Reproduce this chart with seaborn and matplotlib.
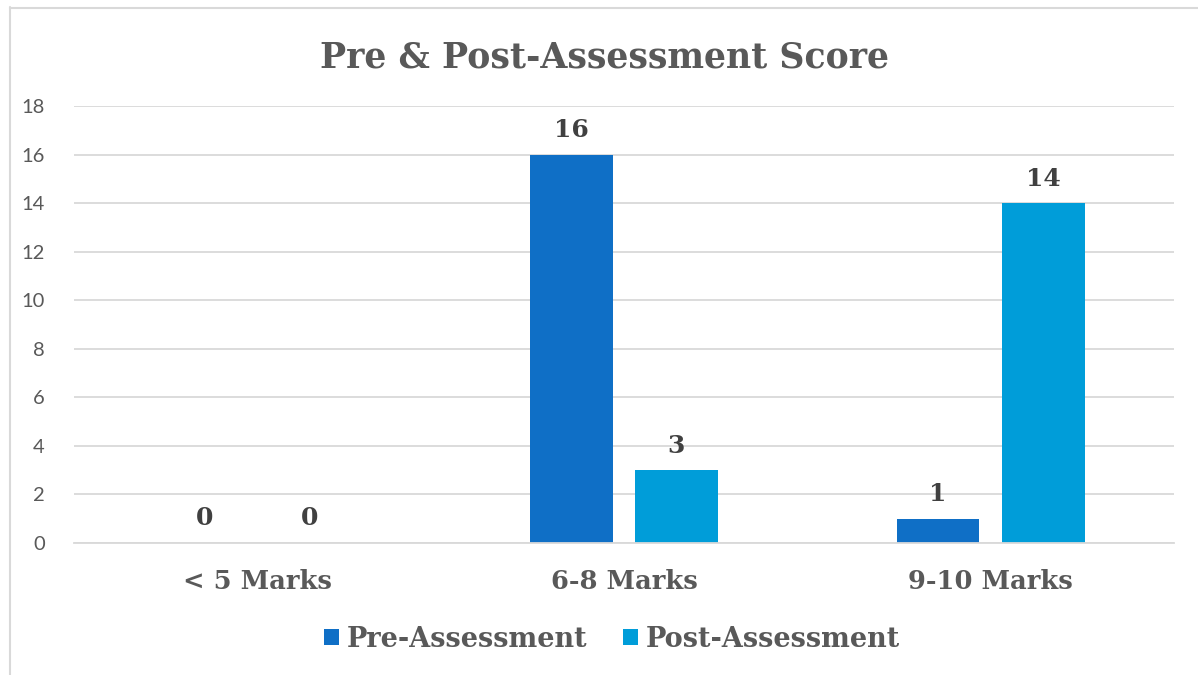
import matplotlib
matplotlib.use("Agg")
import matplotlib.pyplot as plt
from matplotlib.lines import Line2D
import seaborn as sns
import pandas as pd

categories = ["< 5 Marks", "6-8 Marks", "9-10 Marks"]
pre_values = [0, 16, 1]
post_values = [0, 3, 14]
series_names = ["Pre-Assessment", "Post-Assessment"]
y_ticks = [0, 2, 4, 6, 8, 10, 12, 14, 16, 18]

colors = ["#0F6FC6", "#009DD9"]

df = pd.DataFrame({
    "Category": categories * 2,
    "Value": pre_values + post_values,
    "Series": [series_names[0]] * 3 + [series_names[1]] * 3,
})

sns.set_theme(style="white")
plt.rcParams["font.family"] = ["DejaVu Serif"]

fig = plt.figure(figsize=(11.98, 6.75), dpi=100)
ax = fig.add_axes([0.0618, 0.1956, 0.918, 0.6474])

sns.barplot(data=df, x="Category", y="Value", hue="Series", order=categories,
            hue_order=series_names, palette=colors, width=0.573, gap=0.21,
            saturation=1, ax=ax, legend=True, errorbar=None, linewidth=0)

ax.set_ylim(0, 18)
ax.set_xlim(-0.5, 2.5)
ax.set_yticks(y_ticks)
ax.set_yticklabels([str(t) for t in y_ticks], family=["Lato", "DejaVu Sans"],
                   fontsize=14.5, color="#595959")
ax.yaxis.grid(True, color="#D9D9D9", linewidth=1.3)
ax.set_axisbelow(True)
for s in ["top", "right", "left"]:
    ax.spines[s].set_visible(False)
ax.spines["bottom"].set_color("#D9D9D9")
ax.spines["bottom"].set_linewidth(1.3)
ax.tick_params(axis="both", length=0)
ax.tick_params(axis="y", pad=21)
ax.tick_params(axis="x", pad=19)
ax.set_xlabel("")
ax.set_ylabel("")
for lbl in ax.get_xticklabels():
    lbl.set_fontweight("bold")
    lbl.set_fontsize(18.5)
    lbl.set_color("#595959")

for cont in ax.containers:
    ax.bar_label(cont, fmt="%d", padding=9, fontsize=18, fontweight="bold",
                 color="#404040")

leg = ax.legend(loc="center", bbox_to_anchor=(0.489, -0.22), ncol=2,
                frameon=False, fontsize=19.5, handlelength=0.55, handleheight=0.55,
                handletextpad=0.3, columnspacing=1.3)
for t in leg.get_texts():
    t.set_fontweight("bold")
    t.set_color("#595959")

fig.suptitle("Pre & Post-Assessment Score", x=0.505, y=0.94, fontsize=25,
             fontweight="bold", color="#595959")

fig.add_artist(Line2D([0.0083, 0.0083], [0, 0.99], transform=fig.transFigure,
                      color="#D9D9D9", linewidth=1.5))
fig.add_artist(Line2D([0.0083, 1.0], [0.9885, 0.9885], transform=fig.transFigure,
                      color="#D9D9D9", linewidth=1.5))

fig.savefig("out.png", dpi=100, facecolor="white")
